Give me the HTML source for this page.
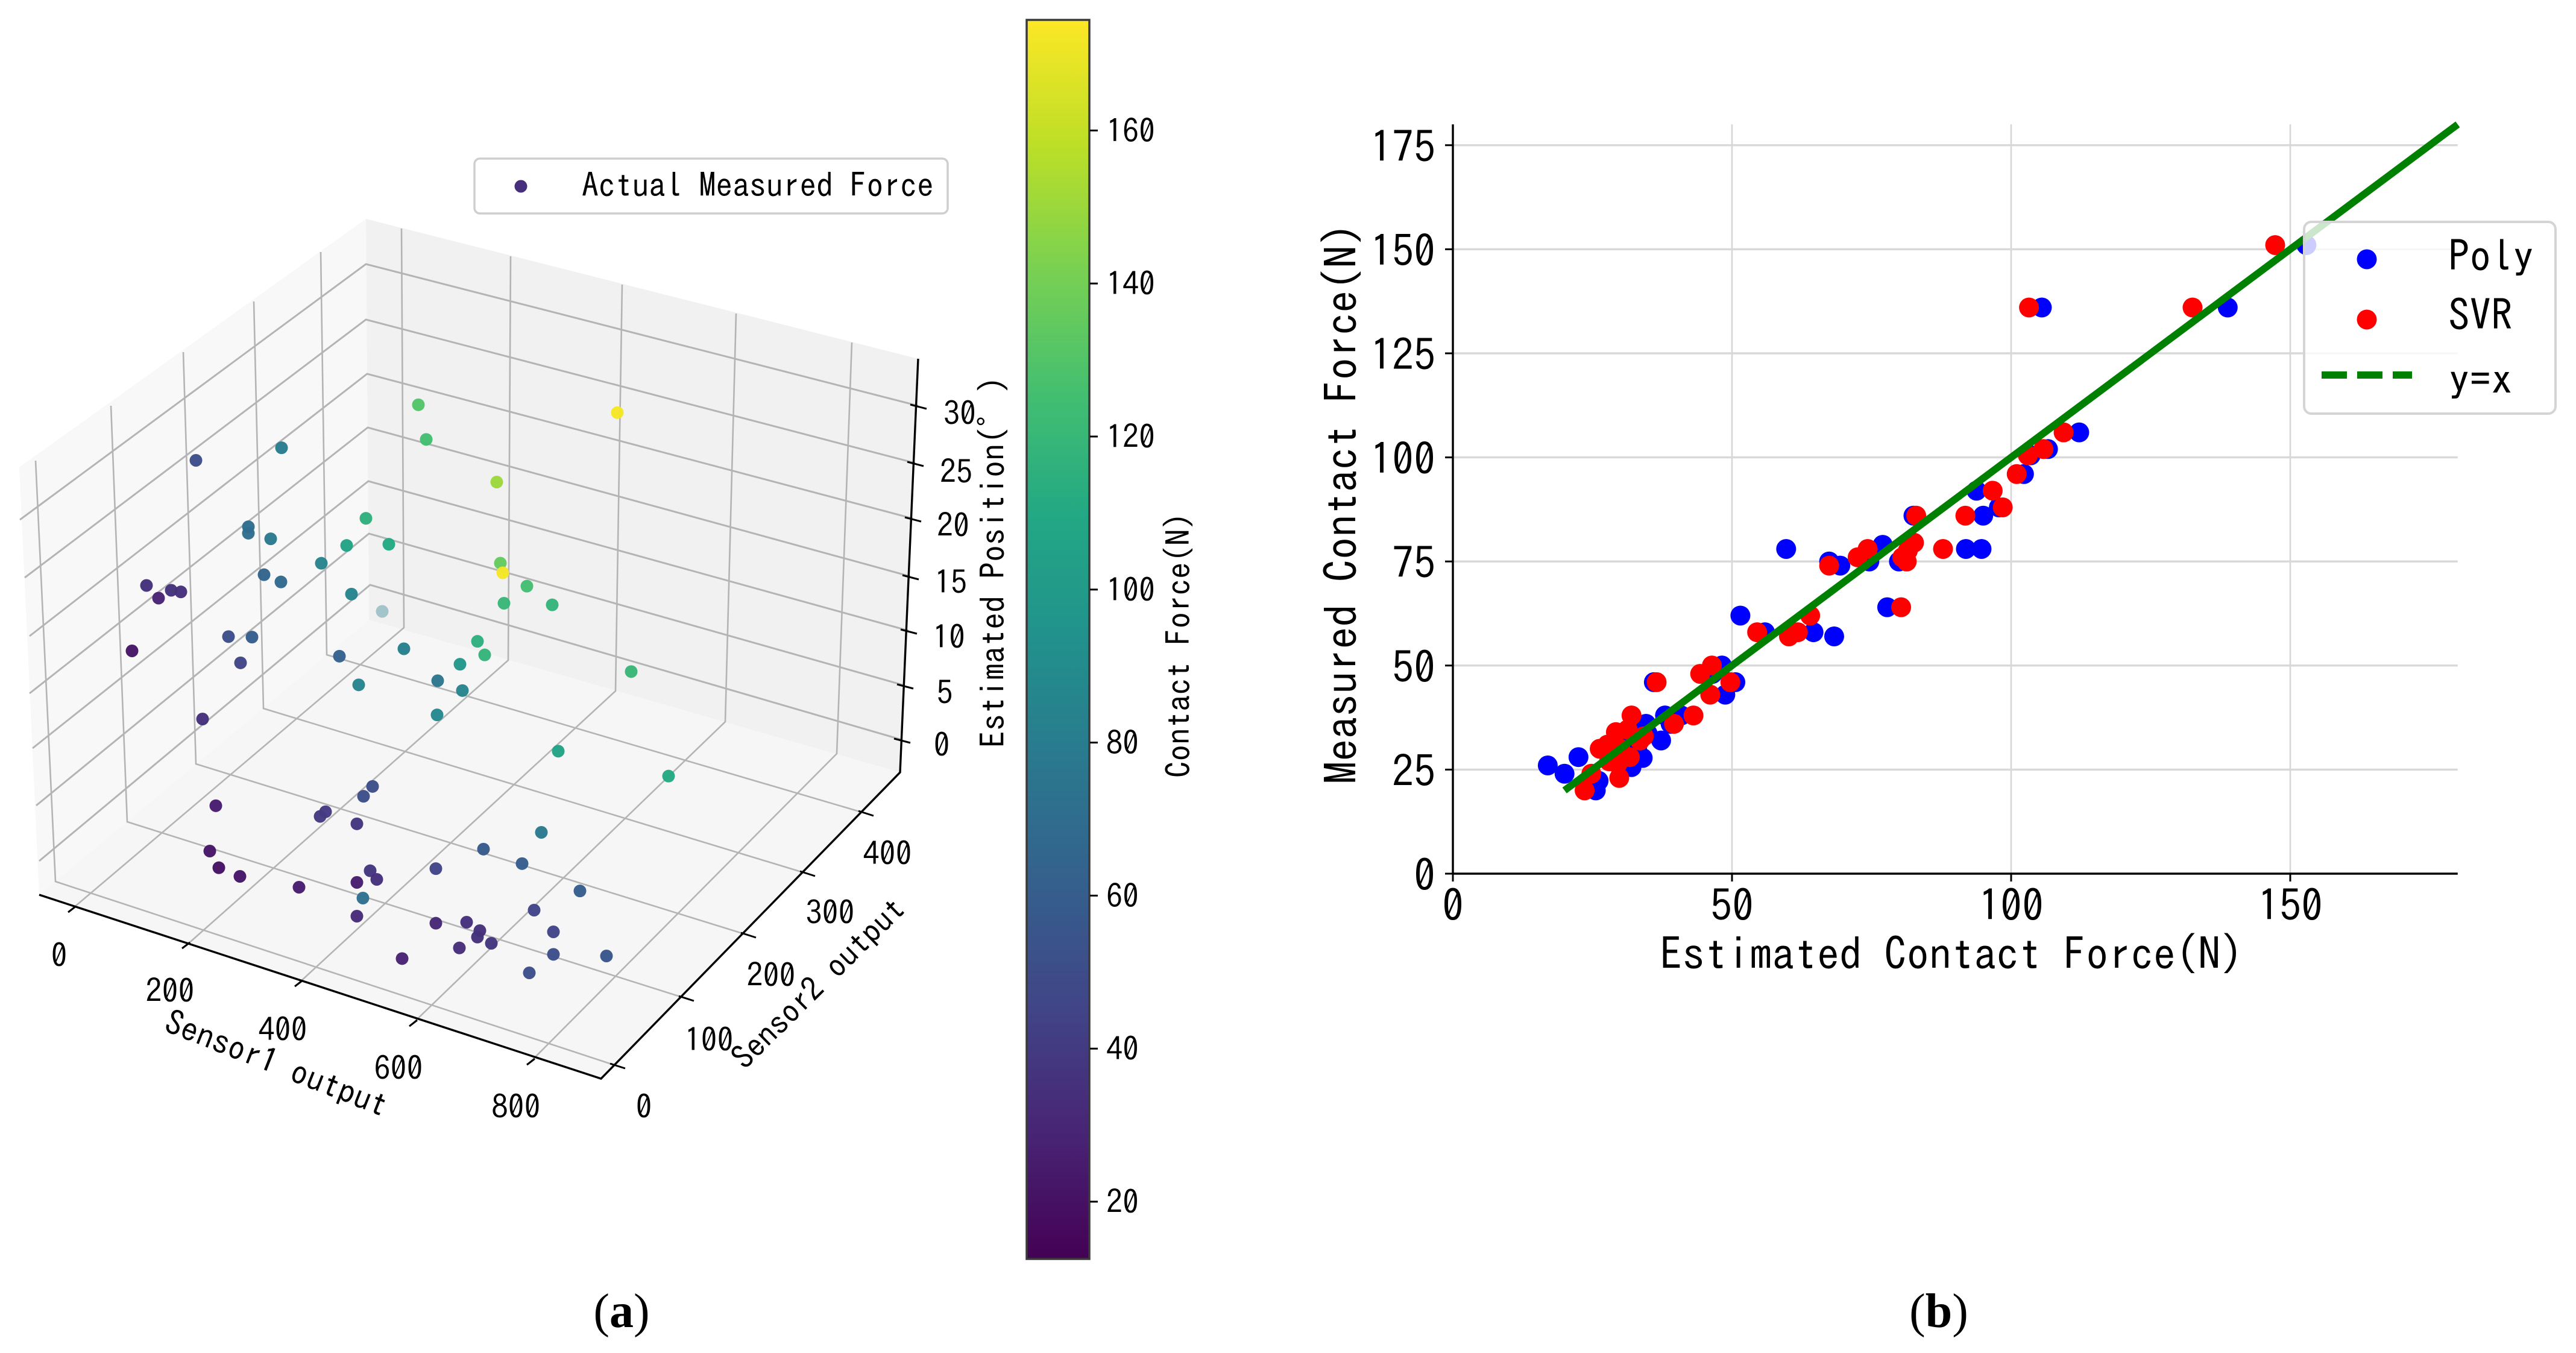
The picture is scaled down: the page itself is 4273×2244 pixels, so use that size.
<!DOCTYPE html>
<html>
<head>
<meta charset="utf-8">
<title>Contact force charts</title>
<style>
html,body{margin:0;padding:0;background:#fff;width:4273px;height:2244px;overflow:hidden}
svg{display:block}
text{font-family:"IPAGothic","Liberation Sans","Noto Sans CJK JP",sans-serif;fill:#000}
.t3{font-size:54px}
.t3b{font-size:56px}
.cap{font-family:"Liberation Serif",serif;font-size:80px}
.tb{font-size:72px}
.at{font-size:74.4px}
.lg{font-size:71px}
</style>
</head>
<body>
<svg id="fig" xmlns="http://www.w3.org/2000/svg" width="4273" height="2244" viewBox="0 0 4273 2244">
<defs>
<linearGradient id="viridis" x1="0" y1="1" x2="0" y2="0"></linearGradient>
</defs>
<rect x="0" y="0" width="4273" height="2244" fill="#fff"/>

<g id="panelA">
<polygon points="607,363 32,775 65,1484 612,1028" fill="#f8f8f8"/>
<polygon points="607,363 1523,595 1493,1281 612,1028" fill="#f1f1f1"/>
<polygon points="612,1028 65,1484 997,1789 1493,1281" fill="#f6f6f6"/>
<path fill="none" stroke="#b4b4b4" stroke-width="2.6" d="M119 1508L670 1041L666 379M309 1568L843 1095L847 425M495 1631L1021 1146L1032 472M685 1697L1203 1197L1221 520M880 1761L1388 1250L1413 568"/>
<path fill="none" stroke="#b4b4b4" stroke-width="2.6" d="M1024 1768L92 1462L59 764M1138 1656L211 1363L184 673M1241 1551L325 1267L304 584M1339 1449L437 1175L421 500M1436 1349L542 1086L532 418"/>
<path fill="none" stroke="#b4b4b4" stroke-width="3" d="M1523 673L607 438L33 862M1518 768L607 530L41 958M1514 860L609 620L49 1055M1510 956L610 709L49 1150M1507 1046L611 798L54 1241M1501 1137L612 885L60 1336M1496 1227L614 970L65 1428"/>
<path fill="none" stroke="#000" stroke-width="3.4" d="M1523 595L1493 1281L997 1789L65 1484"/>
<path fill="none" stroke="#000" stroke-width="3" d="M1510 671L1537 678M1505 766L1532 773M1501 858L1528 865M1497 954L1524 961M1494 1044L1521 1051M1488 1135L1515 1142M1483 1225L1510 1232M113 1513L126 1503M302 1573L315 1563M489 1636L502 1626M679 1702L692 1692M874 1766L887 1756M1012 1764L1037 1772M1126 1652L1151 1660M1229 1547L1254 1555M1327 1445L1352 1453M1424 1345L1449 1353"/>

<g text-anchor="middle" class="t3" dominant-baseline="central">
<text x="98" y="1584">0</text>
<text x="282" y="1643">200</text>
<text x="469" y="1707">400</text>
<text x="661" y="1771">600</text>
<text x="856" y="1835">800</text>
</g>
<g text-anchor="middle" class="t3" dominant-baseline="central">
<text x="1068" y="1835">0</text>
<text x="1176" y="1724">100</text>
<text x="1279" y="1617">200</text>
<text x="1377" y="1513">300</text>
<text x="1472" y="1415">400</text>
</g>
<g text-anchor="middle" class="t3" dominant-baseline="central">
<text x="1562" y="1235">0</text>
<text x="1567" y="1148">5</text>
<text x="1574" y="1056">10</text>
<text x="1577" y="965">15</text>
<text x="1581" y="871">20</text>
<text x="1586" y="782">25</text>
<text x="1592" y="685">30</text>
</g>
<text class="t3b" text-anchor="middle" dominant-baseline="central" transform="translate(459 1763) rotate(21.5)">Sensor1 output</text>
<text class="t3" text-anchor="middle" dominant-baseline="central" transform="translate(1357 1630) rotate(-44.5)">Sensor2 output</text>
<text class="t3b" text-anchor="middle" dominant-baseline="central" transform="translate(1646 932) rotate(-90)">Estimated Position(°)</text>
<g id="dots3d"></g>

<g>
<rect x="787" y="263" width="785" height="91" rx="9" fill="#fff" fill-opacity=".85" stroke="#cfcfcf" stroke-width="3.5"/>
<circle cx="864" cy="309" r="10.5" fill="#472f7d"/>
<text x="965" y="306" font-size="55.6" dominant-baseline="central">Actual Measured Force</text>
</g>

<rect x="1703" y="33" width="104" height="2055" fill="url(#viridis)" stroke="#3a3a3a" stroke-width="3.5"/>
<g id="cbarTicks"></g>
<text font-size="55" text-anchor="middle" dominant-baseline="central" transform="translate(1954 1070) rotate(-90)">Contact Force(N)</text>
</g>

<g id="panelB">
<g id="gridB"></g>
<g id="seriesB"></g>
<g id="axesB"></g>
<text class="at" x="3237" y="1581" text-anchor="middle" dominant-baseline="central">Estimated Contact Force(N)</text>
<text class="at" text-anchor="middle" dominant-baseline="central" transform="translate(2224 835) rotate(-90)">Measured Contact Force(N)</text>
<g>
<rect x="3822" y="368" width="417" height="318" rx="12" fill="#fff" fill-opacity=".8" stroke="#d4d4d4" stroke-width="4"/>
<circle cx="3926" cy="430" r="16.5" fill="#0000ff"/>
<text class="lg" x="4061" y="424" dominant-baseline="central">Poly</text>
<circle cx="3926" cy="530" r="16.5" fill="#ff0000"/>
<text class="lg" x="4061" y="522" dominant-baseline="central">SVR</text>
<line x1="3851" y1="622" x2="4001" y2="622" stroke="#008000" stroke-width="12" stroke-dasharray="42 17"/>
<text class="lg" x="4061" y="628" dominant-baseline="central">y=x</text>
</g>
</g>

<text class="cap" x="1031" y="2175" text-anchor="middle" dominant-baseline="central">(<tspan font-weight="bold">a</tspan>)</text>
<text class="cap" x="3216" y="2175" text-anchor="middle" dominant-baseline="central">(<tspan font-weight="bold">b</tspan>)</text>
</svg>

<script>
// ---------- Panel (a) data ----------
var sensor1Output = [190,475,229,101,24,342,155,47,55,62,137,188,378,393,86,398,29,59,21,30,44,24,148,363,425,180,15,34,50,40,127,198,308,320,287,252,295,145,266,523,21,448,644,247,248,76,220,219,274,528,463,529,111,143,180,267,335,354,333,428,635,360,375,588,482,519,546,551,576,639,667,735,542,484,660];
var sensor2Output = [354,399,328,216,151,332,302,215,207,237,288,307,302,291,297,326,259,257,72,104,106,89,285,323,341,304,54,195,218,209,286,322,334,334,326,324,322,300,309,374,165,328,315,221,205,132,170,162,168,220,189,187,87,70,68,79,129,121,109,145,177,92,67,148,91,105,100,91,89,129,101,121,70,33,68];
var estimatedPosition = [28,30,27,30,31,25,20,22,22,20,18,18,20,20,15,17,15,15,24,22,22,22,14,15,15,12,19,13,12,10,8,8,10,9,8,6,6,5,4,9,7,3,5,2,2,2,2,2,2,3,2,2,1,1,1,1,1,1,1,2,2,1,1,1,1,1,1,1,1,1,1,1,1,1,1];
var contactForce = [130,172,125,80,50,150,115,70,70,78,105,110,135,172,85,125,65,68,35,35,35,28,85,120,118,80,22,50,60,45,62,82,115,118,98,75,85,85,88,120,35,105,110,50,50,25,40,40,38,78,58,60,22,20,22,25,38,35,25,45,60,72,32,45,30,35,35,35,38,45,50,55,33,28,50];
var fadedPoints = [25];
var colorbarTicks = [20,40,60,80,100,120,140,160];

// ---------- Panel (b) data ----------
var polyEstimated = [152.9,138.8,105.5,112.2,106.6,103.5,102.3,93.8,97.8,95,82.5,59.7,91.9,94.7,77,74.6,79.9,67.4,69.4,77.8,51.5,55.9,64.6,68.3,48.2,46.5,36,50.6,48.8,38,40.9,39,37.3,34.6,34.9,33,32,34,17,20,22.5,25.6,26.1,30,31];
var polyMeasured  = [151,136,136,106,102,100.5,96,92,88,86,86,78,78,78,79,75,75,75,74,64,62,58,58,57,50,48,46,46,43,38,38,36,32,36,33.6,30,25.6,27.8,26,24,28,20,22.3,28,34];
var svrEstimated  = [147.3,132.5,103.2,109.4,105.8,103,101,96.7,98.5,91.8,83,87.8,82.6,81.5,80.5,74.3,72.5,81.3,67.4,80.3,64,54.5,61.8,60.2,46.4,44.3,36.5,49.7,46.1,43.1,32,39.6,29.2,26.3,33.5,31.7,29.5,34.2,31.3,27.7,29.8,24.8,23.6,30,28];
var svrMeasured   = [151,136,136,106,102,100.5,96,92,88,86,86,78,79.5,77.6,76,78,76,75,74,64,62,58,58,57,50,48,46,46,43,38,38,36,34,30,32,28,26.4,33,34.6,31,23,24,20,30,27];
var referenceLine = [20,180];
var xTickValues = [0,50,100,150];
var yTickValues = [0,25,50,75,100,125,150,175];

// ---------- Shared ----------
var viridisStops = ["#440154","#482475","#414487","#355f8d","#2a788e","#21918c","#22a884","#44bf70","#7ad151","#bddf26","#fde725"];
var NS = "http://www.w3.org/2000/svg";
function mk(tag, attrs, parent, txt){
  var e = document.createElementNS(NS, tag);
  for (var k in attrs) e.setAttribute(k, attrs[k]);
  if (txt !== undefined) e.textContent = txt;
  parent.appendChild(e);
  return e;
}
function hexRgb(h){ return [parseInt(h.substr(1,2),16),parseInt(h.substr(3,2),16),parseInt(h.substr(5,2),16)]; }
function viridis(t){
  t = Math.max(0, Math.min(1, t));
  var p = t * (viridisStops.length - 1), i = Math.min(Math.floor(p), viridisStops.length - 2), f = p - i;
  var a = hexRgb(viridisStops[i]), b = hexRgb(viridisStops[i + 1]);
  return "rgb(" + Math.round(a[0] + (b[0] - a[0]) * f) + "," + Math.round(a[1] + (b[1] - a[1]) * f) + "," + Math.round(a[2] + (b[2] - a[2]) * f) + ")";
}
var grad = document.getElementById("viridis");
viridisStops.forEach(function(c, i){
  mk("stop", {offset: (i / (viridisStops.length - 1)), "stop-color": c}, grad);
});

// ---------- Panel (a) axis functions ----------
var forceMin = 12.5, forceMax = 174.2;
function projX(s1, s2, z){ return 150 + s1 + s2; }
function projY(s1, s2, z){ return 1480 + s1 / 3 - s2 - 18.5 * z; }
function cbarY(v){ return 1993 - (v - 20) * 12.69; }

var dots = document.getElementById("dots3d");
sensor1Output.forEach(function(s1, i){
  var c = mk("circle", {
    cx: projX(s1, sensor2Output[i], estimatedPosition[i]),
    cy: projY(s1, sensor2Output[i], estimatedPosition[i]),
    r: 10.5,
    fill: viridis((contactForce[i] - forceMin) / (forceMax - forceMin)),
    opacity: fadedPoints.indexOf(i) >= 0 ? 0.38 : 0.97
  }, dots);
  
  
});

var cbarG = document.getElementById("cbarTicks");
colorbarTicks.forEach(function(v){
  var y = cbarY(v);
  var l = mk("line", {x1: 1808, x2: 1821, y1: y, y2: y, stroke: "#000", "stroke-width": 3}, cbarG);
  
  
  var t = mk("text", {x: 1835, y: y, "class": "t3", "dominant-baseline": "central"}, cbarG, String(v));
  
  
});

// ---------- Panel (b) axis functions ----------
function xB(v){ return 2410 + v * 9.26; }
function yB(v){ return 1449 - v * 6.904; }
var gridB = document.getElementById("gridB"), axesB = document.getElementById("axesB"), seriesB = document.getElementById("seriesB");

xTickValues.forEach(function(v){
  if (v > 0) {
    var g = mk("line", {x1: xB(v), x2: xB(v), y1: yB(0), y2: yB(180), stroke: "#d6d6d6", "stroke-width": 2.6}, gridB);
    
    
  }
  var tk = mk("line", {x1: xB(v), x2: xB(v), y1: yB(0), y2: yB(0) + 13, stroke: "#000", "stroke-width": 3}, axesB);
  
  
  var tl = mk("text", {x: xB(v), y: 1501, "class": "tb", "text-anchor": "middle", "dominant-baseline": "central"}, axesB, String(v));
  
  
});
yTickValues.forEach(function(v){
  if (v > 0) {
    var g = mk("line", {x1: xB(0), x2: xB(180), y1: yB(v), y2: yB(v), stroke: "#d8d8d8", "stroke-width": 3.4}, gridB);
    
    
  }
  var tk = mk("line", {x1: xB(0) - 13, x2: xB(0), y1: yB(v), y2: yB(v), stroke: "#000", "stroke-width": 3}, axesB);
  
  
  var tl = mk("text", {x: 2381, y: yB(v) + 2, "class": "tb", "text-anchor": "end", "dominant-baseline": "central"}, axesB, String(v));
  
  
});
var spineL = mk("line", {x1: xB(0), x2: xB(0), y1: yB(180), y2: yB(0) + 1, stroke: "#000", "stroke-width": 3.4}, axesB);


var spineB = mk("line", {x1: xB(0), x2: xB(180), y1: yB(0), y2: yB(0), stroke: "#000", "stroke-width": 3.4}, axesB);



polyEstimated.forEach(function(v, i){
  var c = mk("circle", {cx: xB(v), cy: yB(polyMeasured[i]), r: 16.5, fill: "#0000ff"}, seriesB);
  
  
});
svrEstimated.forEach(function(v, i){
  var c = mk("circle", {cx: xB(v), cy: yB(svrMeasured[i]), r: 16.5, fill: "#ff0000"}, seriesB);
  
  
});
var refLine = mk("line", {x1: xB(referenceLine[0]), y1: yB(referenceLine[0]), x2: xB(referenceLine[1]), y2: yB(referenceLine[1]), stroke: "#008000", "stroke-width": 12}, seriesB);


</script>
</body>
</html>
